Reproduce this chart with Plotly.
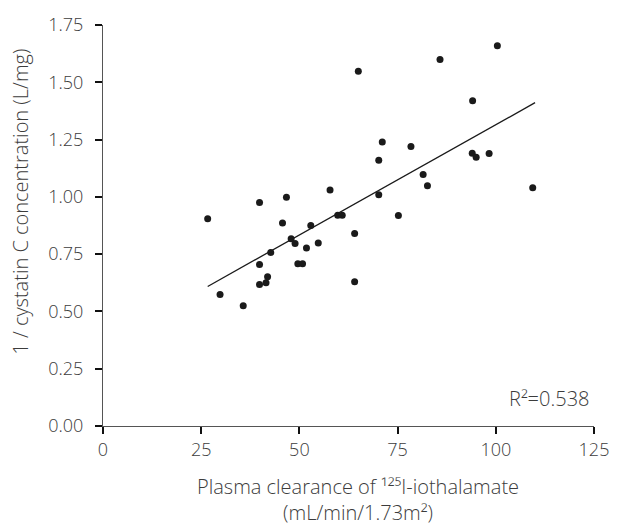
import plotly.graph_objects as go

# Data
clearance = [26.65, 39.85, 46.7, 57.8, 59.75, 60.9, 45.7, 52.9, 47.9, 48.9,
             64.06, 54.8, 51.8, 42.7, 39.85, 49.6, 50.8, 41.9, 39.85, 41.5,
             64.06, 29.8, 35.7, 65.0, 85.8, 100.4, 94.1, 71.1, 78.4, 70.2,
             94.0, 95.0, 98.3, 81.5, 82.6, 109.4, 70.2, 75.2]
inv_cystatin = [0.905, 0.975, 0.998, 1.030, 0.920, 0.920, 0.886, 0.875, 0.817, 0.796,
                0.840, 0.799, 0.777, 0.757, 0.705, 0.708, 0.708, 0.651, 0.617, 0.625,
                0.630, 0.574, 0.525, 1.548, 1.599, 1.659, 1.419, 1.239, 1.220, 1.160,
                1.190, 1.173, 1.189, 1.098, 1.048, 1.040, 1.009, 0.919]

fit_x = [26.65, 110.0]
fit_y = [0.609, 1.411]

x_ticks = [0, 25, 50, 75, 100, 125]
y_ticks = [0.0, 0.25, 0.5, 0.75, 1.0, 1.25, 1.5, 1.75]
y_tick_labels = ["0.00", "0.25", "0.50", "0.75", "1.00", "1.25", "1.50", "1.75"]

text_color = "#3c3c3c"
font_family = "Open Sans, Noto Sans, sans-serif"
W, H = 621, 530
ML, MR, MT, MB = 103, 25, 19, 104
PW, PH = W - ML - MR, H - MT - MB

fig = go.Figure()
fig.add_trace(go.Scatter(x=fit_x, y=fit_y, mode="lines",
                         line=dict(color="#1a1a1a", width=1.3), showlegend=False))
fig.add_trace(go.Scatter(x=clearance, y=inv_cystatin, mode="markers",
                         marker=dict(color="#1a1a1a", size=7), showlegend=False))

fig.add_annotation(x=124.2, y=0.119, xref="x", yref="y", text="R²=0.538",
                   showarrow=False, xanchor="right", yanchor="middle",
                   font=dict(size=20, color=text_color, family=font_family, weight=300))

# Axis titles placed as paper annotations (pixel positions converted to plot-area paper coords)
def px(xp):
    return (xp - ML) / PW

def py(yp):
    return 1 - (yp - MT) / PH

fig.add_annotation(x=px(20), y=py(198), xref="paper", yref="paper",
                   text="1 / cystatin C concentration (L/mg)", textangle=-90,
                   showarrow=False, xanchor="center", yanchor="middle",
                   font=dict(size=20, color=text_color, family=font_family, weight=300))
fig.add_annotation(x=px(359), y=py(501), xref="paper", yref="paper",
                   text="Plasma clearance of ¹²⁵I-iothalamate<br>(mL/min/1.73m²)",
                   showarrow=False, xanchor="center", yanchor="middle", align="center",
                   font=dict(size=20, color=text_color, family=font_family, weight=300))

fig.update_layout(
    width=W, height=H,
    margin=dict(l=ML, r=MR, t=MT, b=MB),
    plot_bgcolor="white", paper_bgcolor="white",
    font=dict(family=font_family, color=text_color, size=18, weight=300),
    xaxis=dict(range=[0, 125], tickvals=x_ticks, ticktext=[str(v) for v in x_ticks],
               showgrid=False, zeroline=False, showline=True, linecolor="#555555",
               linewidth=1.2, ticks="outside", ticklen=7, tickwidth=1.5, tickcolor="#111111",
               tickfont=dict(size=18, color=text_color, weight=300)),
    yaxis=dict(range=[0, 1.75], tickvals=y_ticks, ticktext=y_tick_labels,
               showgrid=False, zeroline=False, showline=True, linecolor="#555555",
               linewidth=1.2, ticks="outside", ticklen=7, tickwidth=1.5, tickcolor="#111111",
               ticklabelstandoff=8,
               tickfont=dict(size=18, color=text_color, weight=300)),
)

fig.write_html("out.html")
